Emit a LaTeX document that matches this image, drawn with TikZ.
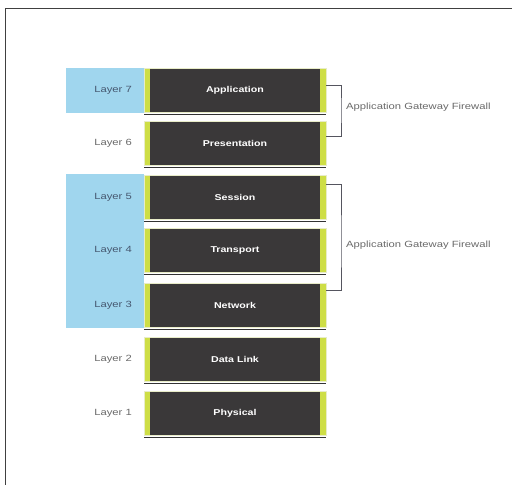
\documentclass[tikz,border=0pt]{standalone}
\usepackage{fontspec}
\newfontfamily\labelfont[FakeStretch=1.25]{Liberation Sans}
\usetikzlibrary{calc}
\definecolor{bandblue}{RGB}{160,214,238}
\definecolor{boxdark}{RGB}{58,56,57}
\definecolor{edgelime}{RGB}{206,222,70}
\definecolor{rimlight}{RGB}{232,236,200}
\definecolor{layerink}{RGB}{70,88,112}
\definecolor{greyink}{RGB}{105,105,105}
\definecolor{bracketink}{RGB}{85,85,95}
\tikzset{
  layerbox/.style={minimum width=182pt, minimum height=44pt, inner sep=0pt,
    fill=boxdark, draw=rimlight, line width=0.8pt, text=white,
    font=\labelfont\bfseries\fontsize{8.5}{10}\selectfont,
    path picture={
      \fill[edgelime] (path picture bounding box.north west) rectangle
        ([xshift=6pt]path picture bounding box.south west);
      \fill[edgelime] (path picture bounding box.north east) rectangle
        ([xshift=-6pt]path picture bounding box.south east);
    }},
  layertag/.style={anchor=east, inner sep=0pt, text=greyink,
    font=\labelfont\fontsize{9}{10}\selectfont},
  bandtag/.style={layertag, text=layerink},
  bandfill/.style={fill=bandblue, draw=none},
  underline/.style={draw=black!80, line width=1.4pt},
  bracket/.style={draw=bracketink, line width=0.8pt},
  bracketnote/.style={anchor=west, inner sep=0pt, text=greyink,
    font=\labelfont\fontsize{9}{10}\selectfont},
}
\begin{document}
\begin{tikzpicture}[x=1pt,y=-1pt]
  \useasboundingbox (0,0) rectangle (512,485);
  % outer frame (only top and left edges fall inside the page)
  \draw[black!75, line width=1pt] (5,485) -- (5,8) -- (512,8);

  % blue bands behind the layer numbers
  \fill[bandfill] (66,68) rectangle (144,113);
  \fill[bandfill] (66,174) rectangle (144,328);

  % the seven OSI layers
  \foreach \nm/\txt/\y in {app/Application/90, pres/Presentation/143,
      sess/Session/197, trans/Transport/250, net/Network/305,
      link/Data Link/359, phys/Physical/413} {
    \draw[underline] (144,\y+24.5) -- (326,\y+24.5);
    \node[layerbox] (\nm) at (235,\y) {\txt};
  }

  % layer numbers
  \node[bandtag]  (l7) at (132,90)  {Layer 7};
  \node[layertag] (l6) at (132,143) {Layer 6};
  \node[bandtag]  (l5) at (132,197) {Layer 5};
  \node[bandtag]  (l4) at (132,250) {Layer 4};
  \node[bandtag]  (l3) at (132,305) {Layer 3};
  \node[layertag] (l2) at (132,359) {Layer 2};
  \node[layertag] (l1) at (132,413) {Layer 1};

  % brackets grouping layers
  \draw[bracket] ([yshift=5pt]app.east) -| (341,110) |- ([yshift=7pt]pres.east);
  \node[bracketnote] (gw1) at (346,107) {Application Gateway Firewall};

  \draw[bracket] ([yshift=13pt]sess.east) -| (341,245) |- ([yshift=15pt]net.east);
  \node[bracketnote] (gw2) at (346,245) {Application Gateway Firewall};
\end{tikzpicture}
\end{document}
